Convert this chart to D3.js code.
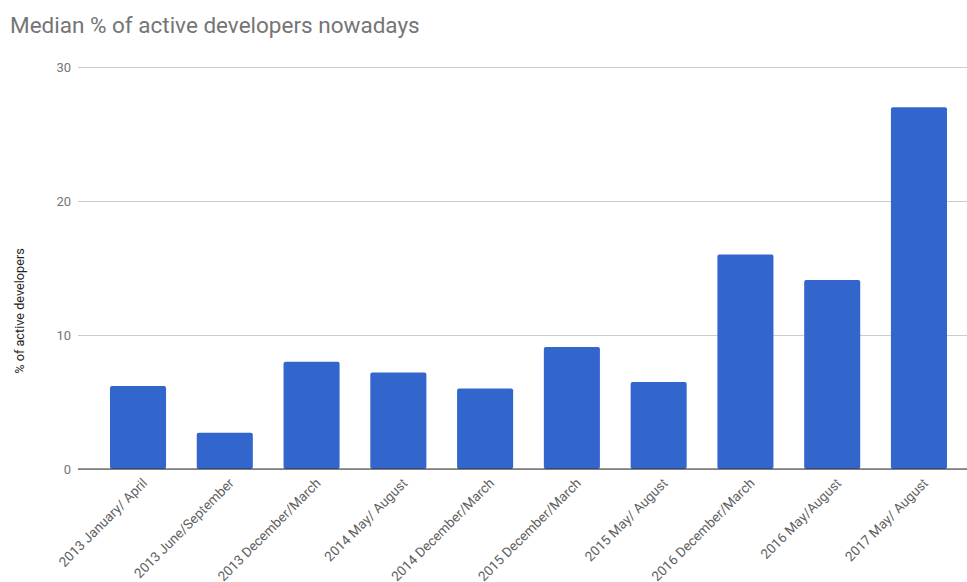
<!DOCTYPE html>
<html>
<head>
<meta charset="utf-8">
<script src="https://cdn.jsdelivr.net/npm/d3@7"></script>
<style>
  body { margin: 0; background: #fff; }
  svg { display: block; font-family: Roboto, "Noto Sans", sans-serif; }
</style>
</head>
<body>
<svg id="chart" width="967" height="582"></svg>
<script>
// Survey periods and the median share of active developers in each
const categories = [
  "2013 January/ April",
  "2013 June/September",
  "2013 December/March",
  "2014 May/ August",
  "2014 December/March",
  "2015 December/March",
  "2015 May/ August",
  "2016 December/March",
  "2016 May/August",
  "2017 May/ August"
];
const values = [6.2, 2.7, 8.0, 7.2, 6.0, 9.1, 6.5, 16.0, 14.1, 27.0];
const yTicks = [0, 10, 20, 30];

const svg = d3.select("#chart");

const gridLeft = 78, gridRight = 967;
const y = d3.scaleLinear().domain([0, 30]).range([469, 67]);
const x = d3.scaleBand()
  .domain(categories)
  .range([110, 947])
  .paddingInner(0.354)
  .paddingOuter(0);

// Title
svg.append("text")
  .attr("x", 10)
  .attr("y", 33)
  .attr("fill", "#757575")
  .attr("font-size", 22.5)
  .text("Median % of active developers nowadays");

// Horizontal gridlines and y tick labels
const yAxis = svg.append("g")
  .attr("transform", `translate(${gridLeft},0)`)
  .call(d3.axisLeft(y).tickValues(yTicks).tickSize(-(gridRight - gridLeft)).tickPadding(7).tickFormat(d3.format("d")));
yAxis.select(".domain").remove();
yAxis.selectAll(".tick line").attr("stroke", "#cccccc");
yAxis.selectAll(".tick text")
  .attr("fill", "#757575")
  .attr("font-size", 13)
  .attr("font-family", "Roboto, sans-serif");

// Bars
svg.append("g")
  .selectAll("rect")
  .data(values)
  .join("rect")
  .attr("x", (d, i) => x(categories[i]))
  .attr("y", d => y(d))
  .attr("width", x.bandwidth())
  .attr("height", d => y(0) - y(d))
  .attr("rx", 2)
  .attr("fill", "#3366cc");

// Baseline
svg.append("line")
  .attr("x1", gridLeft)
  .attr("x2", gridRight)
  .attr("y1", y(0))
  .attr("y2", y(0))
  .attr("stroke", "#333333")
  .attr("stroke-width", 1);

// Rotated category labels
const xAxis = svg.append("g")
  .attr("transform", `translate(0,${y(0)})`)
  .call(d3.axisBottom(x).tickSize(0).tickPadding(0));
xAxis.select(".domain").remove();
xAxis.selectAll(".tick text")
  .attr("fill", "#5f5f5f")
  .attr("font-size", 13.5)
  .attr("font-family", "Roboto, sans-serif")
  .attr("text-anchor", "end")
  .attr("dy", 0)
  .attr("transform", "translate(10,15) rotate(-45)");

// Y axis title
svg.append("text")
  .attr("transform", "translate(24,311) rotate(-90)")
  .attr("text-anchor", "middle")
  .attr("fill", "#222222")
  .attr("font-size", 12.7)
  .text("% of active developers");
</script>
</body>
</html>
